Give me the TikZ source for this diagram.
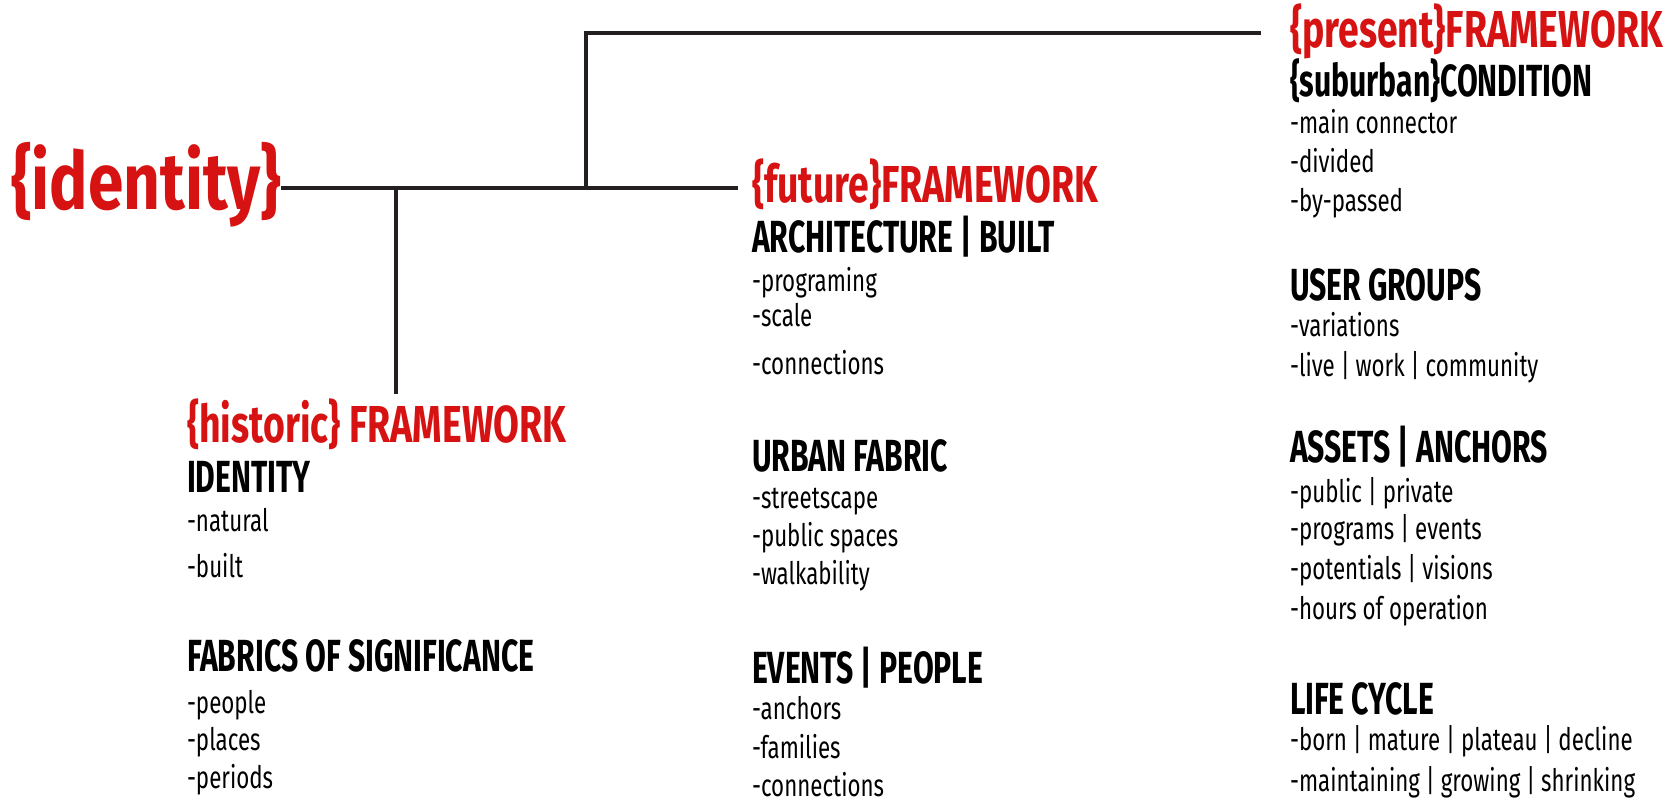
\documentclass[tikz,border=0pt]{standalone}
\usepackage{fontspec}
\setmainfont{Fira Sans}
\newfontfamily\corefont[FakeStretch=0.8]{Fira Sans}
\newfontfamily\framefont[FakeStretch=0.72]{Fira Sans}
\newfontfamily\headfont[FakeStretch=0.67]{Fira Sans}
\newfontfamily\itemfont[FakeStretch=0.72]{Fira Sans}
\usetikzlibrary{positioning}
\definecolor{fwred}{RGB}{214,18,18}
\definecolor{branchgray}{RGB}{35,31,32}

\begin{document}
\begin{tikzpicture}[
    x=0.5pt, y=-0.5pt,
    label/.style={anchor=base west, inner sep=0pt, outer sep=0pt},
    core/.style={label, text=fwred, font=\corefont\bfseries\fontsize{40}{40}\selectfont},
    frame/.style={label, text=fwred, font=\framefont\bfseries\fontsize{26}{26}\selectfont},
    head/.style={label, font=\headfont\bfseries\fontsize{22.5}{22.5}\selectfont},
    item/.style={label, font=\itemfont\fontsize{15.5}{15.5}\selectfont},
    branch/.style={draw=branchgray, line width=2.3pt}
]
    \useasboundingbox (0,0) rectangle (1678,801);

    \node[core] (identity) at (11,210) {\{identity\}};

    % historic column
    \node[frame] (hist) at (187,443) {\{historic\} FRAMEWORK};
    \node[head] (h1) at (187,493) {IDENTITY};
    \node[item] at (187,532) {-natural};
    \node[item] at (187,578) {-built};
    \node[head] (h2) at (187,672) {FABRICS OF SIGNIFICANCE};
    \node[item] at (187,714) {-people};
    \node[item] at (187,751) {-places};
    \node[item] at (187,789) {-periods};

    % future column
    \node[frame] (future) at (752,203) {\{future\}FRAMEWORK};
    \node[head] (f1) at (752,253) {ARCHITECTURE | BUILT};
    \node[item] at (752,292) {-programing};
    \node[item] at (752,327) {-scale};
    \node[item] at (752,375) {-connections};
    \node[head] (f2) at (752,472) {URBAN FABRIC};
    \node[item] at (752,509) {-streetscape};
    \node[item] at (752,547) {-public spaces};
    \node[item] at (752,585) {-walkability};
    \node[head] (f3) at (752,684) {EVENTS | PEOPLE};
    \node[item] at (752,720) {-anchors};
    \node[item] at (752,759) {-families};
    \node[item] at (752,797) {-connections};

    % present column
    \node[frame] (present) at (1290,48) {\{present\}FRAMEWORK};
    \node[head] (p1) at (1290,97) {\{suburban\}CONDITION};
    \node[item] at (1290,134) {-main connector};
    \node[item] at (1290,173) {-divided};
    \node[item] at (1290,212) {-by-passed};
    \node[head] (p2) at (1290,301) {USER GROUPS};
    \node[item] at (1290,337) {-variations};
    \node[item] at (1290,377) {-live | work | community};
    \node[head] (p3) at (1290,463) {ASSETS | ANCHORS};
    \node[item] at (1290,503) {-public | private};
    \node[item] at (1290,540) {-programs | events};
    \node[item] at (1290,580) {-potentials | visions};
    \node[item] at (1290,620) {-hours of operation};
    \node[head] (p4) at (1290,715) {LIFE CYCLE};
    \node[item] at (1290,751) {-born | mature | plateau | decline};
    \node[item] at (1290,792) {-maintaining | growing | shrinking};

    % tree
    \coordinate (jh) at (396,188);
    \coordinate (jp) at (586,188);
    \draw[branch] (identity.east |- jh) -- (738,188) coordinate (jf);
    \draw[branch] (jh) -- (jh |- 0,394) coordinate (hend);
    \draw[branch] (jp) -- (jp |- 0,33) -- (1261,33) coordinate (pend);
\end{tikzpicture}
\end{document}
